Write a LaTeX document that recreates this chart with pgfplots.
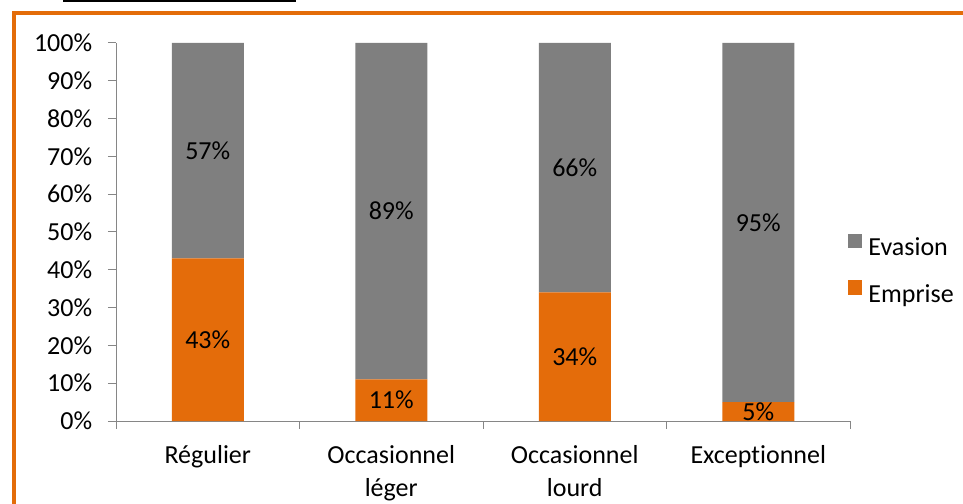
\documentclass[border=0pt]{standalone}
\usepackage{pgfplots}
\pgfplotsset{compat=1.18}
\usepackage{fontspec}
\setmainfont[Ligatures=NoCommon]{Carlito}
\definecolor{evgray}{HTML}{7F7F7F}
\definecolor{emorange}{HTML}{E46C0A}
\definecolor{frameorange}{HTML}{E36C09}
\definecolor{axgray}{HTML}{868686}
\begin{document}
\fontsize{26bp}{33bp}\selectfont
\begin{tikzpicture}
\path[use as bounding box] (0,0) rectangle (963bp,504bp);
\begin{scope}
\clip (0,0) rectangle (963bp,504bp);
\draw[frameorange, line width=4.5bp] (14bp,-20bp) -- (14bp,491bp) -- (990bp,491bp);
\draw[black, line width=3bp] (63bp,503.5bp) -- (296bp,503.5bp);
\end{scope}
\begin{axis}[
  at={(116bp,83bp)}, anchor=south west,
  scale only axis, width=734bp, height=378bp,
  ybar stacked, bar width=72bp,
  xmin=-0.5, xmax=3.5, ymin=0, ymax=100,
  clip=false,
  /pgf/number format/assume math mode=true,
  axis x line*=bottom, axis y line*=left,
  axis line style={axgray, line width=1bp, -},
  tick style={axgray, line width=1bp},
  major tick length=8bp, tick align=outside,
  xtick={-0.5,0.5,1.5,2.5,3.5}, xticklabels={},
  extra x ticks={0,1,2,3},
  extra x tick labels={R\'egulier, Occasionnel\\l\'eger, Occasionnel\\lourd, Exceptionnel},
  extra x tick style={major tick length=0pt, ticklabel style={align=center, yshift=-16bp}},
  ytick={0,10,20,30,40,50,60,70,80,90,100},
  yticklabels={0\%,10\%,20\%,30\%,40\%,50\%,60\%,70\%,80\%,90\%,100\%},
  yticklabel style={xshift=-7bp},
  point meta=rawy,
  nodes near coords={\pgfmathprintnumber{\pgfplotspointmeta}\%},
  every node near coord/.append style={anchor=center, black},
  legend style={at={(0.997,0.397)}, anchor=west, draw=none, fill=none, inner xsep=0pt, row sep=19bp,
    /tikz/every odd column/.append style={column sep=4bp}},
  legend cell align=left,
  reverse legend,
  legend image code/.code={\fill[#1] (0bp,0.5bp) rectangle (14.5bp,15bp);},
]
\addplot[fill=emorange, draw=none] coordinates {(0,43) (1,11) (2,34) (3,5)};
\addplot[fill=evgray, draw=none] coordinates {(0,57) (1,89) (2,66) (3,95)};
\legend{Emprise, Evasion}
\end{axis}
\end{tikzpicture}
\end{document}
